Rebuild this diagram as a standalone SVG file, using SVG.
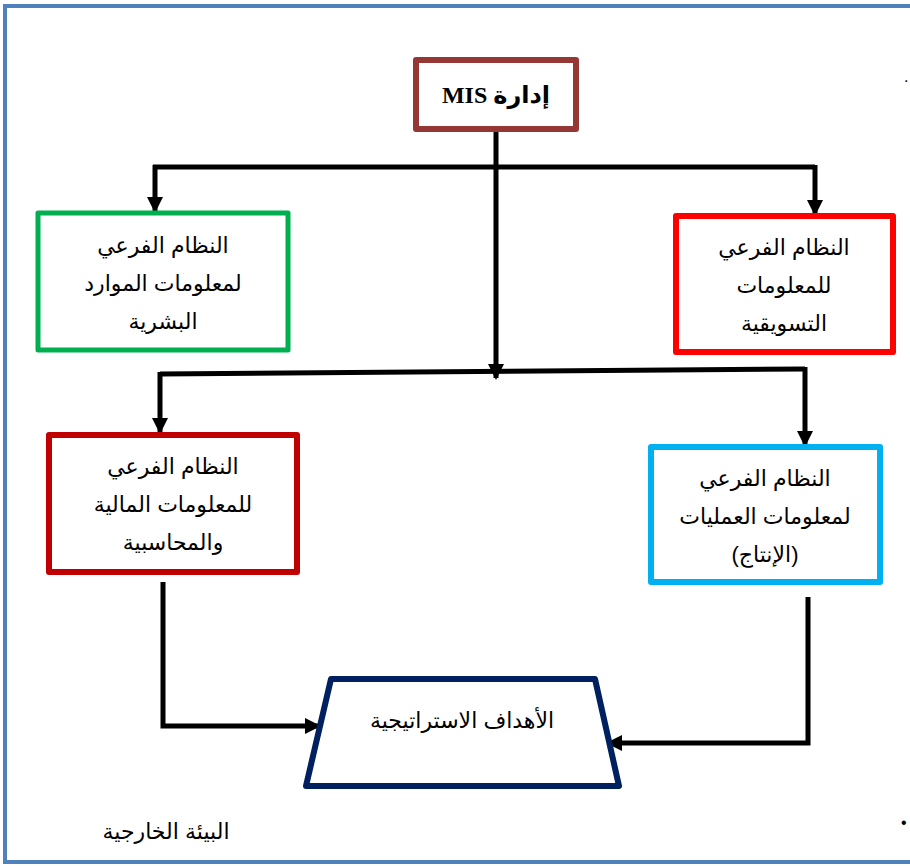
<svg xmlns="http://www.w3.org/2000/svg" width="910" height="866" viewBox="0 0 910 866">
<style>
.t{font-family:"Liberation Sans","DejaVu Sans",sans-serif;font-size:22px;fill:#000;text-anchor:middle;direction:rtl}
.c{fill:none;stroke:#000;stroke-width:5}
.b{fill:#fff;stroke-linejoin:round}
</style>
<defs>
<marker id="ah" markerUnits="userSpaceOnUse" markerWidth="16" markerHeight="16" refX="14" refY="8" orient="auto">
<path d="M0,0 L16,8 L0,16 Z" fill="#000"/>
</marker>
</defs>
<rect x="0" y="0" width="910" height="866" fill="#fff"/>
<rect id="frame" x="5" y="6" width="920" height="856" fill="none" stroke="#4f81bd" stroke-width="4"/>
<g id="connectors">
<polyline class="c" points="496,130 496,378" marker-end="url(#ah)"/>
<polyline class="c" points="153,167 815,167"/>
<polyline class="c" points="155,165 155,211" marker-end="url(#ah)"/>
<polyline class="c" points="815,165 815,214" marker-end="url(#ah)"/>
<polyline class="c" points="160,374 805,369"/>
<polyline class="c" points="160,372 160,432" marker-end="url(#ah)"/>
<polyline class="c" points="805,367 805,445" marker-end="url(#ah)"/>
<polyline class="c" points="163,582 163,726 319,726" marker-end="url(#ah)"/>
<polyline class="c" points="808,597 808,743 608,743" marker-end="url(#ah)"/>
</g>
<g id="mis">
<rect class="b" x="416" y="60" width="160" height="69" stroke="#953735" stroke-width="6"/>
<text x="496" y="103" style="font-family:'Liberation Serif','DejaVu Serif','DejaVu Sans',serif;font-size:24px;font-weight:bold;text-anchor:middle;direction:rtl">إدارة MIS</text>
</g>
<g id="hr">
<rect class="b" x="38" y="213" width="250" height="137" stroke="#00b050" stroke-width="5"/>
<text class="t" x="163" y="253">النظام الفرعي</text>
<text class="t" x="163" y="291">لمعلومات الموارد</text>
<text class="t" x="163" y="329">البشرية</text>
</g>
<g id="marketing">
<rect class="b" x="676" y="216" width="217" height="136" stroke="#ff0000" stroke-width="6"/>
<text class="t" x="784" y="255">النظام الفرعي</text>
<text class="t" x="784" y="293">للمعلومات</text>
<text class="t" x="784" y="331">التسويقية</text>
</g>
<g id="finance">
<rect class="b" x="49" y="435" width="248" height="137" stroke="#c00000" stroke-width="6"/>
<text class="t" x="173" y="474">النظام الفرعي</text>
<text class="t" x="173" y="512">للمعلومات المالية</text>
<text class="t" x="173" y="550">والمحاسبية</text>
</g>
<g id="operations">
<rect class="b" x="651" y="447" width="229" height="135" stroke="#00b0f0" stroke-width="6"/>
<text class="t" x="765" y="486">النظام الفرعي</text>
<text class="t" x="765" y="524">لمعلومات العمليات</text>
<text class="t" x="765" y="562">(الإنتاج)</text>
</g>
<g id="goals">
<polygon class="b" points="331,679 595,679 619,786 306,786" stroke="#002060" stroke-width="6"/>
<text class="t" x="462" y="728">الأهداف الاستراتيجية</text>
</g>
<g id="env">
<text class="t" x="166" y="839">البيئة الخارجية</text>
</g>
<text x="904" y="82" style="font-family:'Liberation Sans',sans-serif;font-size:16px">.</text>
<text x="901" y="828" style="font-family:'Liberation Sans',sans-serif;font-size:16px">•</text>
</svg>
